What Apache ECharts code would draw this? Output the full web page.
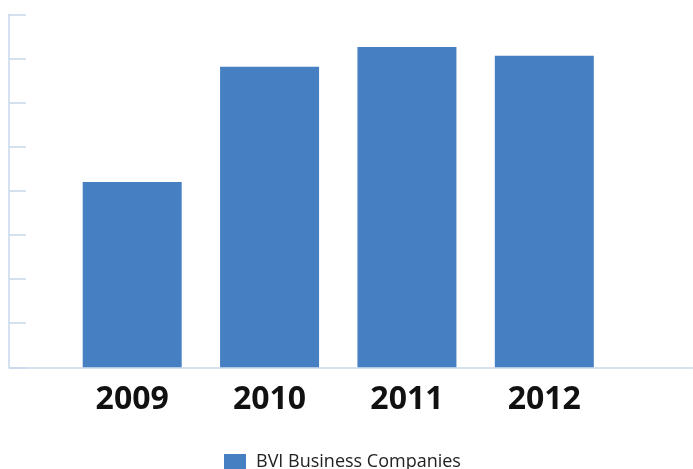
<!DOCTYPE html>
<html>
<head>
<meta charset="utf-8">
<script src="https://cdn.jsdelivr.net/npm/echarts@6/dist/echarts.min.js"></script>
<style>html,body{margin:0;padding:0;background:#fff;}#c{width:693px;height:469px;}</style>
</head>
<body>
<div id="c"></div>
<script>
const categories = ['2009', '2010', '2011', '2012'];
const seriesName = 'BVI Business Companies';
const values = [4.2, 6.81, 7.26, 7.06];
const yMax = 8;
const yInterval = 1;

const chart = echarts.init(document.getElementById('c'), null, {renderer: 'canvas'});
const axisColor = '#c9d7ec';
chart.setOption({
  animation: false,
  backgroundColor: '#ffffff',
  grid: [
    {left: 9, right: 0.5, top: 14.3, bottom: 101.7},
    {left: 63.5, width: 549.5, top: 14.3, bottom: 101.7}
  ],
  legend: {
    data: [seriesName],
    left: 219,
    top: 448,
    itemWidth: 22,
    itemHeight: 16,
    icon: 'rect',
    textStyle: {fontFamily: 'Open Sans', fontSize: 18, color: '#222', padding: [0, 0, 0, 5]}
  },
  xAxis: [
    {gridIndex: 0, type: 'value', min: 0, max: 1, axisLine: {show: true, onZero: false, lineStyle: {color: axisColor, width: 1.5}},
     axisTick: {show: false}, axisLabel: {show: false}, splitLine: {show: false}},
    {gridIndex: 1, type: 'category', data: categories, axisLine: {show: false}, axisTick: {show: false},
     axisLabel: {fontFamily: 'Open Sans', fontWeight: 'bold', fontSize: 32, color: '#111', margin: 17}}
  ],
  yAxis: [
    {gridIndex: 0, type: 'value', min: 0, max: yMax, interval: yInterval,
     axisLine: {show: true, lineStyle: {color: axisColor, width: 1.5}},
     axisTick: {show: true, inside: true, length: 17, lineStyle: {color: axisColor, width: 1.5}},
     axisLabel: {show: false}, splitLine: {show: false}},
    {gridIndex: 1, type: 'value', min: 0, max: yMax, show: false}
  ],
  series: [{
    name: seriesName,
    type: 'bar',
    xAxisIndex: 1,
    yAxisIndex: 1,
    data: values,
    barWidth: 99,
    itemStyle: {color: '#4680c2'}
  }]
});
</script>
</body>
</html>
